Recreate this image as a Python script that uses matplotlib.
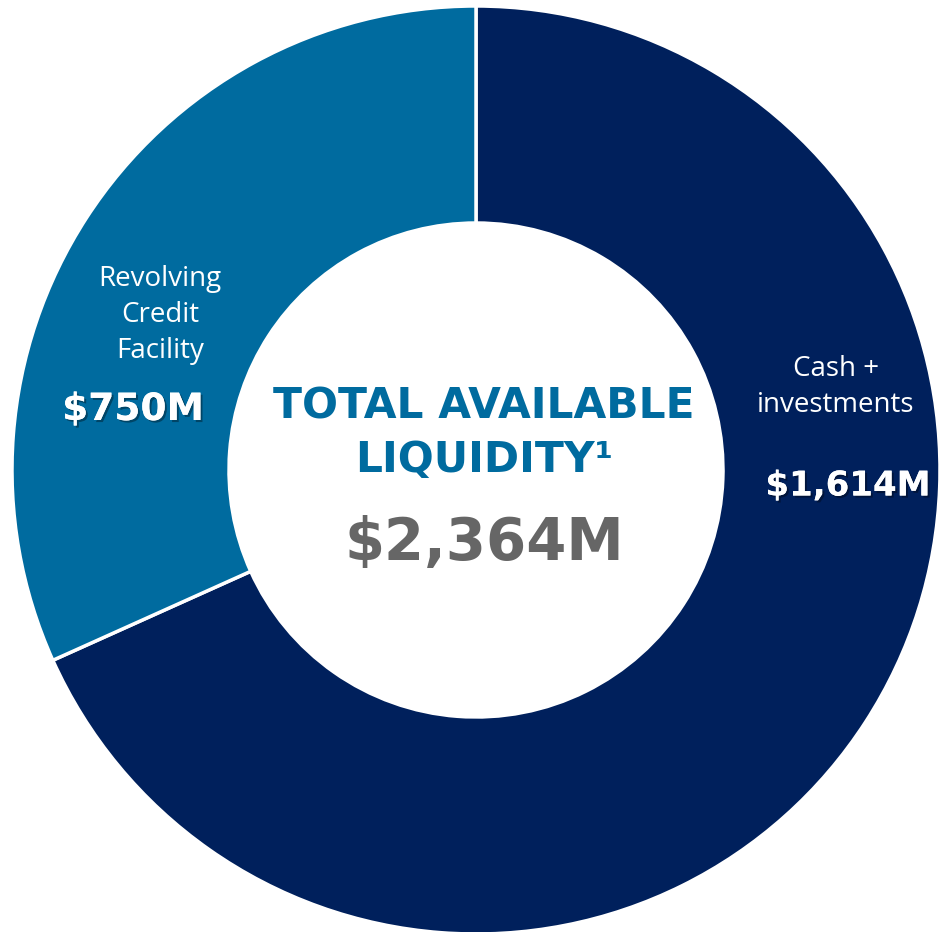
import matplotlib
matplotlib.use("Agg")
import matplotlib.pyplot as plt
import matplotlib.patheffects as pe

labels = ["Cash +\ninvestments", "Revolving\nCredit\nFacility"]
values = [1614, 750]
value_labels = ["$1,614M", "$750M"]
colors = ["#00205C", "#006B9F"]
total_label = "$2,364M"
title = "TOTAL AVAILABLE\nLIQUIDITY\u00b9"

fig = plt.figure(figsize=(9.39, 9.32), dpi=100)
ax = fig.add_axes([0, 0, 1, 1])

# y axis is inverted, so counterclock=True draws clockwise on screen
ax.pie(values, colors=colors, startangle=-90, counterclock=True,
       center=(476, 470), radius=464, frame=True,
       wedgeprops=dict(width=217, edgecolor="white", linewidth=2.5))
ax.set_xlim(0, 939)
ax.set_ylim(932, 0)
ax.set_aspect("equal")
ax.axis("off")

shadow = [pe.withSimplePatchShadow(offset=(1.5, -1.5), shadow_rgbFace="black", alpha=0.35), pe.Normal()]

ax.text(836, 387, labels[0], color="white", fontsize=20, family="Open Sans",
        ha="center", va="center", linespacing=1.35)
ax.text(848, 486, value_labels[0], color="white", fontsize=24.5, weight="bold",
        family="DejaVu Sans", ha="center", va="center", path_effects=shadow)

ax.text(160, 315, labels[1], color="white", fontsize=20, family="Open Sans",
        ha="center", va="center", linespacing=1.38)
ax.text(133, 410, value_labels[1], color="white", fontsize=27, weight="bold",
        family="DejaVu Sans", ha="center", va="center", path_effects=shadow)

ax.text(484, 433, title, color="#006B9F", fontsize=30.5, weight="bold",
        family="DejaVu Sans", ha="center", va="center", linespacing=1.35)
ax.text(484, 544, total_label, color="#666666", fontsize=41.5, weight="bold",
        family="DejaVu Sans", ha="center", va="center")

fig.savefig("out.png", dpi=100, facecolor="white")
